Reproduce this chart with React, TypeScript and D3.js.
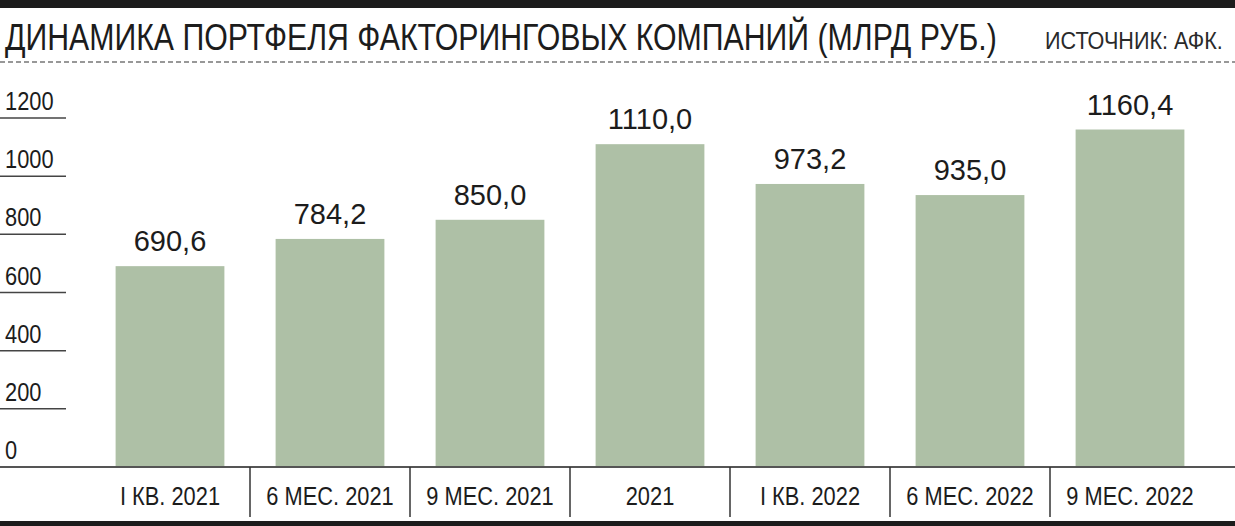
import * as d3 from "d3";

const WIDTH = 1235;
const HEIGHT = 526;
const MARGIN = { left: 90, right: 25, top: 118, bottom: 59 };

const TITLE = "ДИНАМИКА ПОРТФЕЛЯ ФАКТОРИНГОВЫХ КОМПАНИЙ (МЛРД РУБ.)";
const SOURCE = "ИСТОЧНИК: АФК.";

const categories = [
  "I КВ. 2021",
  "6 МЕС. 2021",
  "9 МЕС. 2021",
  "2021",
  "I КВ. 2022",
  "6 МЕС. 2022",
  "9 МЕС. 2022",
];
const values = [690.6, 784.2, 850.0, 1110.0, 973.2, 935.0, 1160.4];
const yTicks = [0, 200, 400, 600, 800, 1000, 1200];

const SANS = "'Liberation Sans', Arial, sans-serif";
const NARROW = 0.84; // horizontal squeeze to mimic a condensed face
const BAR = "#aec0a6";
const INK = "#1c1c1c";

// condensed text: regular sans squeezed horizontally
const Cond = ({
  x,
  y,
  size,
  anchor = "start",
  fill = INK,
  squeeze = NARROW,
  children,
}: {
  x: number;
  y: number;
  size: number;
  anchor?: "start" | "middle" | "end";
  fill?: string;
  squeeze?: number;
  children: string | number;
}) => (
  <g transform={`translate(${x},${y}) scale(${squeeze},1)`}>
    <text x={0} y={0} textAnchor={anchor} fontFamily={SANS} fontSize={size} fill={fill}>
      {children}
    </text>
  </g>
);

export default function App() {
  const baseY = HEIGHT - MARGIN.bottom; // 467

  const xScale = d3
    .scaleBand<string>()
    .domain(categories)
    .range([MARGIN.left, WIDTH - MARGIN.right])
    .paddingInner(0.32)
    .paddingOuter(0.16);

  const step = xScale.step();
  const yScale = d3.scaleLinear().domain([0, 1200]).range([baseY, MARGIN.top]);

  const fmt = (v: number) => d3.format(".1f")(v).replace(".", ",");

  return (
    <div>
      <style>{`body{margin:0}`}</style>
      <svg width={WIDTH} height={HEIGHT} style={{ display: "block" }}>
        <rect x={0} y={0} width={WIDTH} height={HEIGHT} fill="#fff" />
        {/* top heavy rule */}
        <rect x={0} y={0} width={WIDTH} height={8} fill={INK} />
        <Cond x={5} y={50} size={37} squeeze={0.818}>
          {TITLE}
        </Cond>
        <Cond x={1045} y={49} size={24} fill="#2a2a2a" squeeze={0.9}>
          {SOURCE}
        </Cond>
        <line
          x1={0}
          x2={WIDTH}
          y1={62}
          y2={62}
          stroke="#777"
          strokeWidth={1.5}
          strokeDasharray="5,3"
        />

        {/* y ticks */}
        {yTicks.map((t) => (
          <g key={t}>
            {t > 0 && (
              <line x1={0} x2={66} y1={yScale(t)} y2={yScale(t)} stroke="#444" strokeWidth={1.5} />
            )}
            <Cond x={5} y={yScale(t) - 8} size={26}>
              {t}
            </Cond>
          </g>
        ))}

        {/* bars */}
        {categories.map((c, i) => {
          const x = xScale(c)!;
          const y = yScale(values[i]);
          return (
            <g key={c}>
              <rect x={x} y={y} width={xScale.bandwidth()} height={baseY - y} fill={BAR} />
              <text
                x={x + xScale.bandwidth() / 2}
                y={y - 15}
                textAnchor="middle"
                fontFamily={SANS}
                fontSize={29}
                fill={INK}
              >
                {fmt(values[i])}
              </text>
            </g>
          );
        })}

        {/* baseline and category axis */}
        <line x1={0} x2={WIDTH} y1={baseY} y2={baseY} stroke="#555" strokeWidth={2} />
        {categories.map((c, i) => {
          const center = xScale(c)! + xScale.bandwidth() / 2;
          const left = center - step / 2;
          return (
            <g key={c}>
              {i > 0 && (
                <line x1={left} x2={left} y1={baseY} y2={517} stroke="#333" strokeWidth={1.5} />
              )}
              <Cond x={center} y={505} size={26} anchor="middle">
                {c}
              </Cond>
            </g>
          );
        })}

        {/* bottom heavy rule */}
        <rect x={0} y={521} width={WIDTH} height={5} fill={INK} />
      </svg>
    </div>
  );
}
